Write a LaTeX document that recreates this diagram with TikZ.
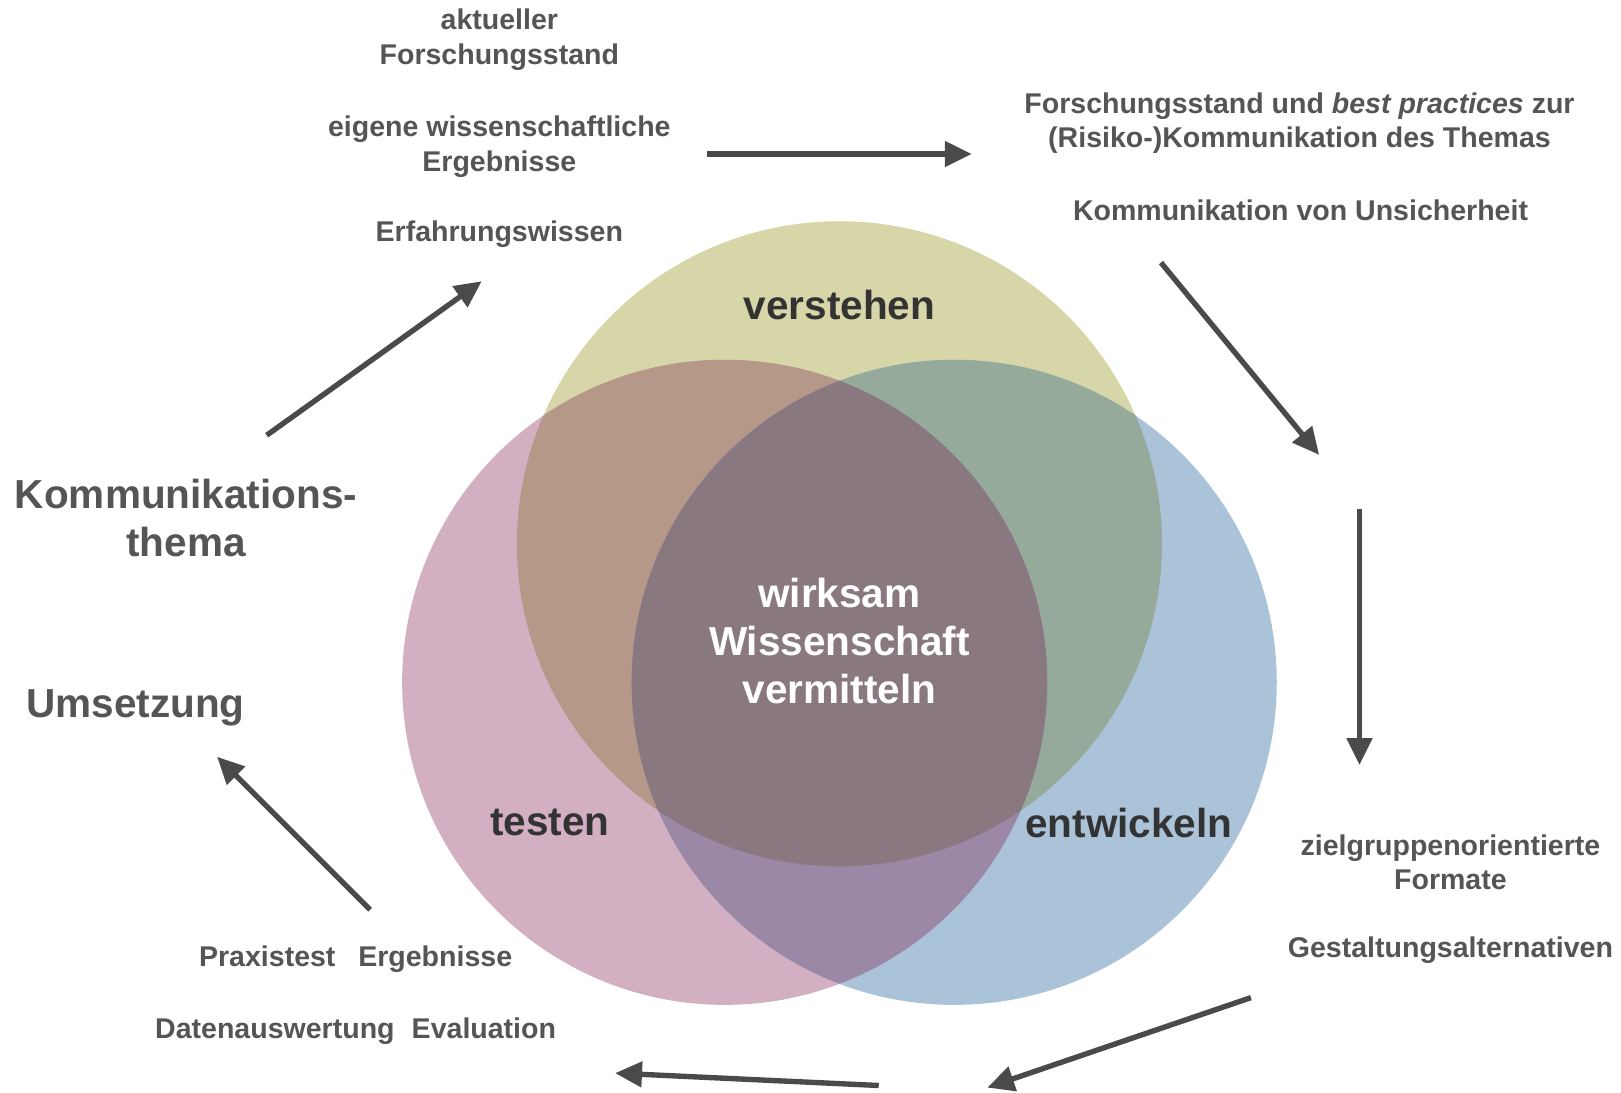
\documentclass[tikz,border=0pt]{standalone}
\usepackage{fontspec}
\setmainfont{Liberation Sans}
\usetikzlibrary{arrows.meta}
\definecolor{cyel}{HTML}{D7D6A9}
\definecolor{cpink}{HTML}{D3AFC2}
\definecolor{cblue}{HTML}{ABC3D8}
\definecolor{cyp}{HTML}{B69888}
\definecolor{cyb}{HTML}{95AA9B}
\definecolor{cpb}{HTML}{9B88A6}
\definecolor{call}{HTML}{89787F}
\definecolor{txtgray}{HTML}{555555}
\definecolor{lbldark}{HTML}{333333}
\definecolor{arrgray}{HTML}{4A4A4A}
\begin{document}
\begin{tikzpicture}[x=0.5pt,y=-0.5pt,
  small/.style={text=txtgray, font=\bfseries\fontsize{13.8pt}{16.8pt}\selectfont, align=center, inner sep=0pt},
  big/.style={text=txtgray, font=\bfseries\fontsize{19.6pt}{23pt}\selectfont, align=center, inner sep=0pt},
  circlbl/.style={text=lbldark, font=\bfseries\fontsize{19.6pt}{23pt}\selectfont, align=center, inner sep=0pt},
  centerlbl/.style={text=white, font=\bfseries\fontsize{19.6pt}{23pt}\selectfont, align=center, inner sep=0pt},
  arr/.style={draw=arrgray, line width=2.6pt, -{Triangle[length=13pt,width=12pt]}}]
\useasboundingbox (0,0) rectangle (1568,1057);
% circles
\coordinate (cy) at (812,526);
\coordinate (cp) at (701,660);
\coordinate (cb) at (923,660);
\fill[cyel] (cy) circle[radius=156pt];
\fill[cpink] (cp) circle[radius=156pt];
\fill[cblue] (cb) circle[radius=156pt];
\begin{scope}
  \clip (cy) circle[radius=156pt];
  \fill[cyp] (cp) circle[radius=156pt];
  \fill[cyb] (cb) circle[radius=156pt];
\end{scope}
\begin{scope}
  \clip (cp) circle[radius=156pt];
  \fill[cpb] (cb) circle[radius=156pt];
\end{scope}
\begin{scope}
  \clip (cy) circle[radius=156pt];
  \clip (cp) circle[radius=156pt];
  \fill[call] (cb) circle[radius=156pt];
\end{scope}
% circle labels
\node[circlbl] (verstehen) at (812,295) {verstehen};
\node[circlbl] (testen) at (532,796) {testen};
\node[circlbl] (entwickeln) at (1092,796) {entwickeln};
\node[centerlbl] (center) at (812,620) {wirksam\\Wissenschaft\\vermitteln};
% text groups
\node[big] (thema) at (180,501) {Kommunikations-\\thema};
\node[big] (umsetzung) at (131,685) {Umsetzung};
\node[small] (aktuell) at (483,38.5) {aktueller\\Forschungsstand};
\node[small] (eigene) at (483,142) {eigene wissenschaftliche\\Ergebnisse};
\node[small] (erfahrung) at (483,227) {Erfahrungswissen};
\node[small] (forschung) at (1257,119) {Forschungsstand und \textit{best practices} zur\\(Risiko-)Kommunikation des Themas};
\node[small] (unsicher) at (1258,203) {Kommunikation von Unsicherheit};
\node[small] (zielgruppe) at (1403,834) {zielgruppenorientierte\\Formate};
\node[small] (gestaltung) at (1403,919) {Gestaltungsalternativen};
\node[small] (praxis) at (344,928) {Praxistest\hspace{0.8em}Ergebnisse};
\node[small] (daten) at (344,997) {Datenauswertung\hspace{0.6em}Evaluation};
% arrows
\coordinate (a1s) at (684,149); \coordinate (a1e) at (940,149);
\coordinate (a2s) at (1123,254); \coordinate (a2e) at (1276,440);
\coordinate (a3s) at (1315,492); \coordinate (a3e) at (1315,740);
\coordinate (a4s) at (1210,965); \coordinate (a4e) at (955,1052);
\coordinate (a5s) at (850,1050); \coordinate (a5e) at (595,1038);
\coordinate (a6s) at (358,880); \coordinate (a6e) at (210,732);
\coordinate (a7s) at (258,421); \coordinate (a7e) at (466,272);
\draw[arr] (a1s) -- (a1e);
\draw[arr] (a2s) -- (a2e);
\draw[arr] (a3s) -- (a3e);
\draw[arr] (a4s) -- (a4e);
\draw[arr] (a5s) -- (a5e);
\draw[arr] (a6s) -- (a6e);
\draw[arr] (a7s) -- (a7e);
\end{tikzpicture}
\end{document}
